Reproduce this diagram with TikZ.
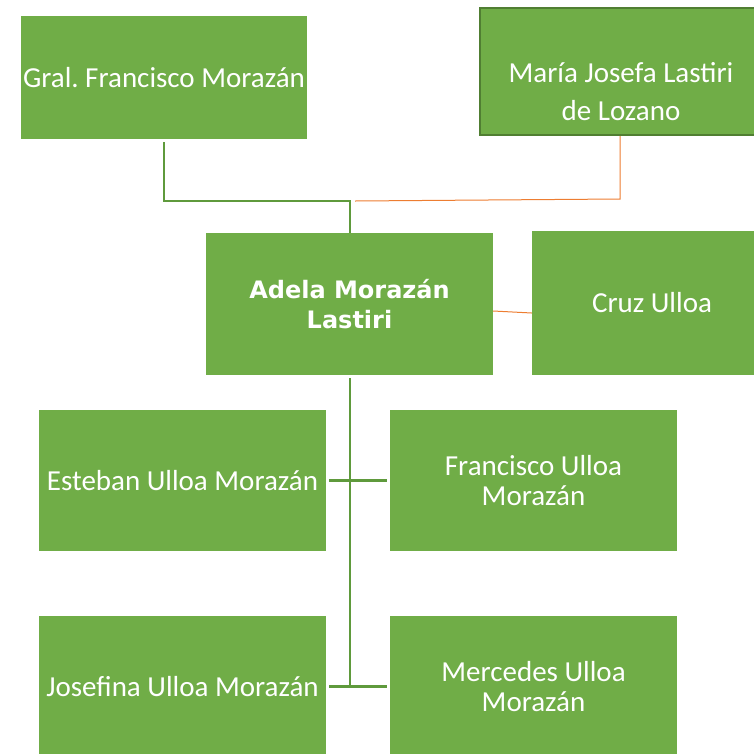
\documentclass[tikz,border=0pt]{standalone}
\usepackage{fontspec}
\setmainfont{Carlito}
\newfontfamily\boldface{DejaVu Sans}
\frenchspacing
\definecolor{boxgreen}{HTML}{70AD47}
\definecolor{darkgreen}{HTML}{507E32}
\definecolor{linegreen}{HTML}{5F9A3C}
\definecolor{lineorange}{HTML}{ED7D31}
\begin{document}
\begin{tikzpicture}[x=1pt,y=-1pt,
  box/.style={fill=boxgreen,draw=none,minimum width=287pt,minimum height=141pt,inner sep=0pt,text=white,font=\fontsize{29}{30}\selectfont,align=center},
  lbl/.style={text=white,font=\fontsize{29}{38}\selectfont,align=center,inner sep=0pt},
  gline/.style={draw=linegreen,line width=2.5pt},
  oline/.style={draw=lineorange,line width=1pt}]
\useasboundingbox (0,0) rectangle (754,753);
\clip (0,0) rectangle (754,753);
\node[box,minimum width=286pt,minimum height=123pt] (gral) at (164,77.5) {Gral. Francisco Morazán};
\node[box,draw=darkgreen,line width=2pt,minimum width=282pt,minimum height=127pt] (maria) at (621,71.5) {};
\node[lbl] (mariat) at (621,92) {María Josefa Lastiri\\de Lozano};
\node[box,minimum width=287pt,minimum height=142pt,font=\boldface\bfseries\fontsize{24}{30}\selectfont] (adela) at (349.5,304) {Adela Morazán\\Lastiri};
\node[box,minimum width=240pt,minimum height=144pt] (cruz) at (652,303) {Cruz Ulloa};
\node[box] (esteban) at (182.5,480.5) {Esteban Ulloa Morazán};
\node[box] (francisco) at (533.5,480.5) {Francisco Ulloa\\Morazán};
\node[box] (josefina) at (182.5,686.5) {Josefina Ulloa Morazán};
\node[box] (mercedes) at (533.5,686.5) {Mercedes Ulloa\\Morazán};
\coordinate (j1) at (164,201);
\coordinate (j2) at (350,201);
\coordinate (o1) at (355,201);
\coordinate (o2) at (620,199);
\draw[gline] (gral.south) ++(0,3) -- (j1) -- (j2) -- (adela.north -| j2);
\draw[oline] (o1) -- (o2) -- (maria.south -| o2);
\draw[oline] ([yshift=-7pt]adela.east) -- ([yshift=-10pt]cruz.west);
\coordinate (tb) at (350,378);
\coordinate (bt) at (350,687);
\draw[gline] (tb) -- (bt);
\draw[gline] ([xshift=3pt]esteban.east) -- ([xshift=-3pt]francisco.west);
\draw[gline] ([xshift=3pt]josefina.east) -- ([xshift=-3pt]mercedes.west);
\end{tikzpicture}
\end{document}
